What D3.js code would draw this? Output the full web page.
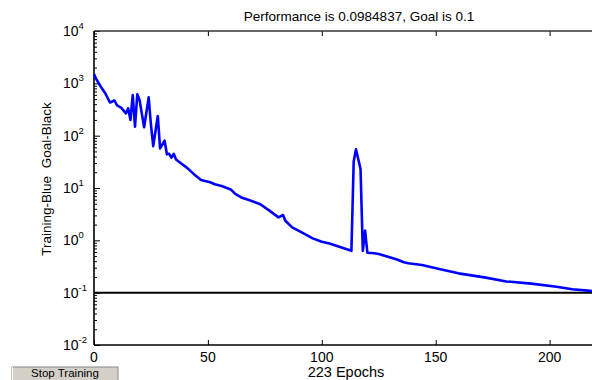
<!DOCTYPE html>
<html>
<head>
<script src="https://d3js.org/d3.v7.min.js"></script>
<style>
  body { margin: 0; background: #fff; }
  svg { display: block; font-family: "Liberation Sans", Arial, sans-serif; }
</style>
</head>
<body>
<script>
// training record
var epochs = [0, 1, 3, 5, 7, 9, 10, 12, 14, 15, 16, 17, 18, 19, 20, 22, 24, 25, 26, 28, 29,
  31, 32, 33, 34, 35, 36, 38, 41, 44, 47, 51, 53, 56, 60, 62, 65, 68, 73, 77, 81, 83, 84,
  87, 92, 96, 100, 103, 113, 114, 115, 117, 118, 119, 120, 123, 125, 133, 136, 138, 144,
  152, 160, 172, 181, 192, 203, 210, 218, 223];
var perf = [1500, 1200, 860, 640, 430, 470, 385, 340, 267, 333, 199, 598, 148, 617, 480, 145, 540, 160, 63, 238, 57,
  80, 44, 45, 38, 45, 35, 30, 24, 18.2, 14.2, 12.9, 11.8, 10.9, 9.4, 7.7, 6.5, 5.9, 4.9, 3.7, 2.75, 3.05, 2.37,
  1.77, 1.36, 1.09, 0.94, 0.88, 0.63, 32, 55, 23, 0.63, 1.53, 0.58, 0.565, 0.55, 0.43, 0.38, 0.364, 0.337,
  0.28, 0.234, 0.194, 0.164, 0.149, 0.13, 0.116, 0.108, 0.0985];
var goal = 0.1;
var xTicks = [0, 50, 100, 150, 200];
var yDecades = [-2, -1, 0, 1, 2, 3, 4];

var W = 592, H = 380;
var x = d3.scaleLinear().domain([0, 223]).range([94, 602]);
var y = d3.scaleLog().domain([0.01, 10000]).range([345, 31]);

var svg = d3.select("body").append("svg").attr("width", W).attr("height", H);

// minor + major ticks on the y axis (inward)
var minor = y.ticks().filter(function(v) { return Math.abs(Math.log10(v) % 1) > 1e-6; });
svg.append("g").attr("transform", "translate(94,0)")
  .call(d3.axisLeft(y).tickValues(minor).tickSize(-3).tickFormat(""))
  .call(function(g) { g.select(".domain").remove(); g.selectAll("line").attr("stroke", "#000"); });
svg.append("g").attr("transform", "translate(94,0)")
  .call(d3.axisLeft(y).tickValues(yDecades.map(function(d) { return Math.pow(10, d); })).tickSize(-6).tickFormat(""))
  .call(function(g) { g.select(".domain").remove(); g.selectAll("line").attr("stroke", "#000"); });

// x ticks bottom and top (inward)
svg.append("g").attr("transform", "translate(0,345)")
  .call(d3.axisBottom(x).tickValues(xTicks).tickSize(-5).tickFormat(""))
  .call(function(g) { g.select(".domain").remove(); g.selectAll("line").attr("stroke", "#000"); });
svg.append("g").attr("transform", "translate(0,31)")
  .call(d3.axisTop(x).tickValues(xTicks).tickSize(-5).tickFormat(""))
  .call(function(g) { g.select(".domain").remove(); g.selectAll("line").attr("stroke", "#000"); });

// frame
svg.append("line").attr("x1", x(0)).attr("x2", W).attr("y1", y(10000)).attr("y2", y(10000))
  .attr("stroke", "#333").attr("stroke-width", 1.6);
svg.append("line").attr("x1", x(0)).attr("x2", W).attr("y1", y(0.01)).attr("y2", y(0.01))
  .attr("stroke", "#000").attr("stroke-width", 1.6);
svg.append("line").attr("x1", x(0)).attr("x2", x(0)).attr("y1", y(10000)).attr("y2", y(0.01))
  .attr("stroke", "#000").attr("stroke-width", 1.6);

// goal line
svg.append("line").attr("x1", x(0)).attr("x2", W).attr("y1", y(goal)).attr("y2", y(goal))
  .attr("stroke", "#000").attr("stroke-width", 2);

// training curve
var pts = epochs.map(function(e, i) { return [e, perf[i]]; });
svg.append("path").datum(pts)
  .attr("d", d3.line().x(function(d) { return x(d[0]); }).y(function(d) { return y(d[1]); }))
  .attr("fill", "none").attr("stroke", "#0000ff").attr("stroke-width", 2.6)
  .attr("stroke-linejoin", "round");

// x tick labels
svg.selectAll(".xl").data(xTicks).enter().append("text")
  .attr("x", function(d) { return x(d); }).attr("y", 362)
  .attr("text-anchor", "middle").attr("font-size", 14).text(function(d) { return d; });

// y tick labels 10^k
var yl = svg.selectAll(".yl").data(yDecades).enter().append("text")
  .attr("x", 63).attr("y", function(d) { return y(Math.pow(10, d)) + 5; })
  .attr("font-size", 14);
yl.append("tspan").text("10");
yl.append("tspan").attr("dy", -7).attr("font-size", 9.5).text(function(d) { return d; });

// titles
svg.append("text").attr("x", 359).attr("y", 21).attr("text-anchor", "middle")
  .attr("font-size", 13.5).text("Performance is 0.0984837, Goal is 0.1");
svg.append("text").attr("x", 346).attr("y", 377).attr("text-anchor", "middle")
  .attr("font-size", 14.5).text("223 Epochs");
svg.append("text").attr("transform", "translate(51,179) rotate(-90)").attr("text-anchor", "middle")
  .attr("font-size", 13.5).attr("xml:space", "preserve").text("Training-Blue  Goal-Black");

// stop training button
svg.append("rect").attr("x", 12).attr("y", 367).attr("width", 106).attr("height", 15)
  .attr("fill", "#d4d0c8").attr("stroke", "#888").attr("stroke-width", 1);
svg.append("line").attr("x1", 12.5).attr("x2", 12.5).attr("y1", 367).attr("y2", 380).attr("stroke", "#fff");
svg.append("text").attr("x", 65).attr("y", 377).attr("text-anchor", "middle")
  .attr("font-size", 11.5).text("Stop Training");
</script>
</body>
</html>
